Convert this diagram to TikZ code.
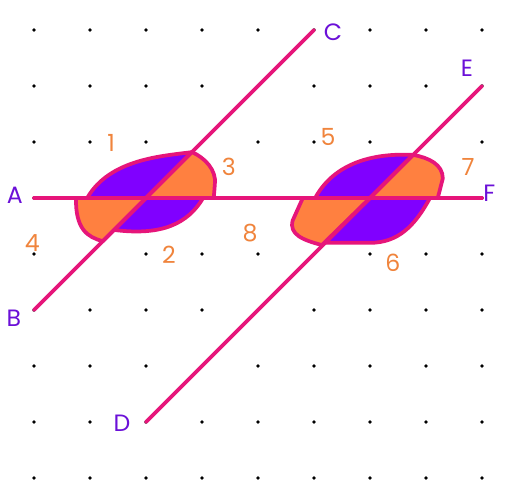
\documentclass[tikz,border=0pt]{standalone}
\usepackage{fontspec}
\setmainfont{Poppins}
\definecolor{linepink}{HTML}{E6157A}
\definecolor{fillviolet}{HTML}{8000FF}
\definecolor{fillorange}{HTML}{FF8040}
\definecolor{numorange}{HTML}{F0843C}
\definecolor{letterviolet}{HTML}{6B10D8}
\begin{document}
\begin{tikzpicture}
  [line join=round,
    gridpt/.style={black},
    ray/.style={draw=linepink, line width=1.9pt, line cap=round},
    violetpart/.style={fill=fillviolet, draw=linepink, line width=1.9pt},
    orangepart/.style={fill=fillorange, draw=linepink, line width=1.9pt},
    ptlabel/.style={text=letterviolet, font=\fontsize{12}{14}\selectfont},
    anglabel/.style={text=numorange, font=\fontsize{12}{14}\selectfont},
  ]
  \useasboundingbox (-0.607,-0.411) rectangle (8.643,8.536);
  \fill[white] (-0.607,-0.411) rectangle (8.643,8.536);

  % Dot grid
  \foreach \x in {0,...,8}
    \foreach \y in {0,...,8}
      \fill[gridpt] (\x,\y) circle (0.033);

  % End points and crossings
  \coordinate (A) at (0,5);
  \coordinate (F) at (8,5);
  \coordinate (B) at (0,3);
  \coordinate (C) at (5,8);
  \coordinate (D) at (2,1);
  \coordinate (E) at (8,7);
  \coordinate (O1) at (2,5);
  \coordinate (O2) at (6,5);

  % Left crossing
  \path[violetpart] (O1) -- (0.95,5) .. controls (1.35,5.7) and (2.3,5.75) .. (2.82,5.82) -- cycle;
  \path[orangepart] (O1) -- (2.82,5.82) .. controls (3.05,5.72) and (3.26,5.5) .. (3.23,5.25)
    -- (3.21,5) -- cycle;
  \path[violetpart] (O1) -- (3.02,5) .. controls (2.75,4.55) and (2.3,4.32) .. (1.43,4.43) -- cycle;
  \path[orangepart] (O1) -- (1.23,4.23) .. controls (0.95,4.3) and (0.74,4.45) .. (0.75,5) -- cycle;

  % Right crossing
  \path[violetpart] (O2) -- (5.02,5) .. controls (5.4,5.7) and (6.2,5.8) .. (6.77,5.77) -- cycle;
  \path[orangepart] (O2) -- (6.77,5.77) .. controls (7.05,5.72) and (7.3,5.6) .. (7.3,5.35)
    -- (7.21,5) -- cycle;
  \path[violetpart] (O2) -- (7.07,5) .. controls (6.8,4.5) and (6.5,4.2) .. (6,4.2) -- (5.2,4.2) -- cycle;
  \path[orangepart] (O2) -- (5.14,4.16) .. controls (4.8,4.25) and (4.55,4.35) .. (4.62,4.6)
    -- (4.8,5) -- cycle;

  % Lines
  \draw[ray] (A) -- (F);
  \draw[ray] (B) -- (C);
  \draw[ray] (D) -- (E);

  % Letters
  \node[ptlabel] (lA) at (-0.34,5.04) {A};
  \node[ptlabel] (lB) at (-0.36,2.85) {B};
  \node[ptlabel] (lC) at (5.34,7.96) {C};
  \node[ptlabel] (lD) at (1.57,0.98) {D};
  \node[ptlabel] (lE) at (7.73,7.32) {E};
  \node[ptlabel] (lF) at (8.13,5.09) {F};

  % Angle numbers
  \node[anglabel] (n1) at (1.38,5.98) {1};
  \node[anglabel] (n2) at (2.41,3.98) {2};
  \node[anglabel] (n3) at (3.48,5.55) {3};
  \node[anglabel] (n4) at (-0.03,4.2) {4};
  \node[anglabel] (n5) at (5.25,6.09) {5};
  \node[anglabel] (n6) at (6.41,3.84) {6};
  \node[anglabel] (n7) at (7.75,5.55) {7};
  \node[anglabel] (n8) at (3.86,4.38) {8};
\end{tikzpicture}
\end{document}
